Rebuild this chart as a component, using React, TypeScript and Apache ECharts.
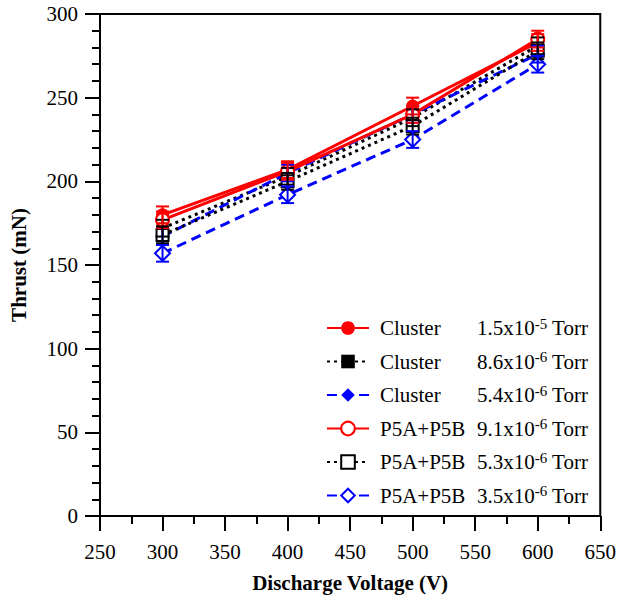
import React, { useEffect, useRef } from "react";
import * as echarts from "echarts";

// Discharge voltage (V)
const voltages = [300, 400, 500, 600];

// Thrust (mN)
const clusterP15e5 = [180, 207, 245, 283];
const clusterP86e6 = [172, 203, 238, 281];
const clusterP54e6 = [167, 205, 240, 276];
const p5abP91e6 = [177, 206, 240, 285];
const p5abP53e6 = [168, 200, 233, 278];
const p5abP35e6 = [157, 192, 225, 270];

// Error bar half-widths (mN)
const errClusterP15e5 = [5, 5, 5, 5];
const errClusterP86e6 = [5, 5, 5, 5];
const errClusterP54e6 = [5, 5, 5, 5];
const errP5abP91e6 = [5, 5, 5, 5];
const errP5abP53e6 = [5, 5, 5, 5];
const errP5abP35e6 = [5, 5, 5, 5];

// Legend labels: thruster | mantissa | exponent
const seriesLabels = [
  "Cluster|1.5x10|-5",
  "Cluster|8.6x10|-6",
  "Cluster|5.4x10|-6",
  "P5A+P5B|9.1x10|-6",
  "P5A+P5B|5.3x10|-6",
  "P5A+P5B|3.5x10|-6",
];

const xTicks = { min: 250, max: 650, interval: 50 };
const yTicks = { min: 0, max: 300, interval: 50 };

const FONT = "Liberation Serif";
const RED = "#ff0000";
const BLACK = "#000000";
const BLUE = "#0000ff";

type Spec = {
  name: string;
  values: number[];
  errors: number[];
  color: string;
  symbol: string;
  dash: any;
  size: number;
};

const specs: Spec[] = [
  { name: seriesLabels[0], values: clusterP15e5, errors: errClusterP15e5, color: RED, symbol: "circle", dash: "solid", size: 13 },
  { name: seriesLabels[1], values: clusterP86e6, errors: errClusterP86e6, color: BLACK, symbol: "rect", dash: [3, 4], size: 12 },
  { name: seriesLabels[2], values: clusterP54e6, errors: errClusterP54e6, color: BLUE, symbol: "diamond", dash: [10, 6], size: 15 },
  { name: seriesLabels[3], values: p5abP91e6, errors: errP5abP91e6, color: RED, symbol: "emptyCircle", dash: "solid", size: 13 },
  { name: seriesLabels[4], values: p5abP53e6, errors: errP5abP53e6, color: BLACK, symbol: "emptyRect", dash: [3, 4], size: 12 },
  { name: seriesLabels[5], values: p5abP35e6, errors: errP5abP35e6, color: BLUE, symbol: "emptyDiamond", dash: [10, 6], size: 15 },
];

function errorSeries(s: Spec) {
  return {
    type: "custom",
    name: s.name + "|err",
    data: voltages.map((v, i) => [v, s.values[i] - s.errors[i], s.values[i] + s.errors[i]]),
    z: 4,
    silent: true,
    renderItem: (_params: any, api: any) => {
      const x = api.value(0);
      const lo = api.coord([x, api.value(1)]);
      const hi = api.coord([x, api.value(2)]);
      const hw = 6.5;
      const style = { stroke: s.color, lineWidth: 2 };
      return {
        type: "group",
        children: [
          { type: "line", shape: { x1: lo[0], y1: lo[1], x2: hi[0], y2: hi[1] }, style },
          { type: "line", shape: { x1: lo[0] - hw, y1: lo[1], x2: lo[0] + hw, y2: lo[1] }, style },
          { type: "line", shape: { x1: hi[0] - hw, y1: hi[1], x2: hi[0] + hw, y2: hi[1] }, style },
        ],
      };
    },
  };
}

function lineSeries(s: Spec) {
  const empty = s.symbol.startsWith("empty");
  return {
    type: "line",
    name: s.name,
    data: voltages.map((v, i) => [v, s.values[i]]),
    symbol: s.symbol,
    symbolSize: s.size,
    showAllSymbol: true,
    z: 3,
    lineStyle: { color: s.color, width: 3, type: s.dash },
    itemStyle: empty
      ? { color: s.color, borderColor: s.color, borderWidth: 1.3 }
      : { color: s.color, borderColor: s.color, borderWidth: 0 },
  };
}

export default function App() {
  const ref = useRef<HTMLDivElement>(null);
  useEffect(() => {
    if (!ref.current) return;
    const chart = echarts.init(ref.current, undefined, { renderer: "svg" });
    const axisCommon = {
      axisLine: { show: true, onZero: false, lineStyle: { color: "#000", width: 2 } },
      axisTick: { show: true, inside: false, length: 15, lineStyle: { color: "#000", width: 2 } },
      minorTick: { show: true, length: 8, lineStyle: { color: "#000", width: 2 } },
      splitLine: { show: false },
      axisLabel: { color: "#000", fontFamily: FONT, fontSize: 21 },
      nameTextStyle: { color: "#000", fontFamily: FONT, fontSize: 21, fontWeight: "bold" },
    };
    chart.setOption({
      animation: false,
      backgroundColor: "#ffffff",
      textStyle: { fontFamily: FONT },
      grid: {
        left: 99,
        top: 14,
        right: 18,
        bottom: 89,
        containLabel: false,
        show: true,
        borderColor: "#000",
        borderWidth: 2,
        backgroundColor: "transparent",
      },
      xAxis: {
        type: "value",
        ...xTicks,
        ...axisCommon,
        minorTick: { ...axisCommon.minorTick, splitNumber: 2 },
        axisLabel: { ...axisCommon.axisLabel, margin: 25 },
        name: "Discharge Voltage (V)",
        nameLocation: "middle",
        nameGap: 56,
      },
      yAxis: {
        type: "value",
        ...yTicks,
        ...axisCommon,
        minorTick: { ...axisCommon.minorTick, splitNumber: 5 },
        axisLabel: { ...axisCommon.axisLabel, margin: 22 },
        name: "Thrust (mN)",
        nameLocation: "middle",
        nameRotate: 90,
        nameGap: 71,
      },
      legend: {
        orient: "vertical",
        left: 326,
        top: 316,
        padding: 0,
        itemWidth: 42,
        itemHeight: 17,
        itemGap: 11,
        data: seriesLabels,
        formatter: (name: string) => {
          const [a, b, c] = name.split("|");
          return `{n|${a}}{p|${b}}{s|${c}}{p| Torr}`;
        },
        textStyle: {
          color: "#000",
          fontFamily: FONT,
          fontSize: 21,
          rich: {
            n: { width: 97, fontFamily: FONT, fontSize: 21, lineHeight: 24, color: "#000", padding: [0, 0, 0, 6] },
            p: { fontFamily: FONT, fontSize: 21, lineHeight: 24, color: "#000" },
            s: { fontFamily: FONT, fontSize: 15, lineHeight: 15, color: "#000", verticalAlign: "top" },
          },
        },
      },
      series: [...specs.map(errorSeries), ...specs.map(lineSeries)],
    });
    return () => chart.dispose();
  }, []);
  return (
    <div
      ref={ref}
      style={{ position: "fixed", left: 0, top: 0, width: 619, height: 605, background: "#fff" }}
    />
  );
}
